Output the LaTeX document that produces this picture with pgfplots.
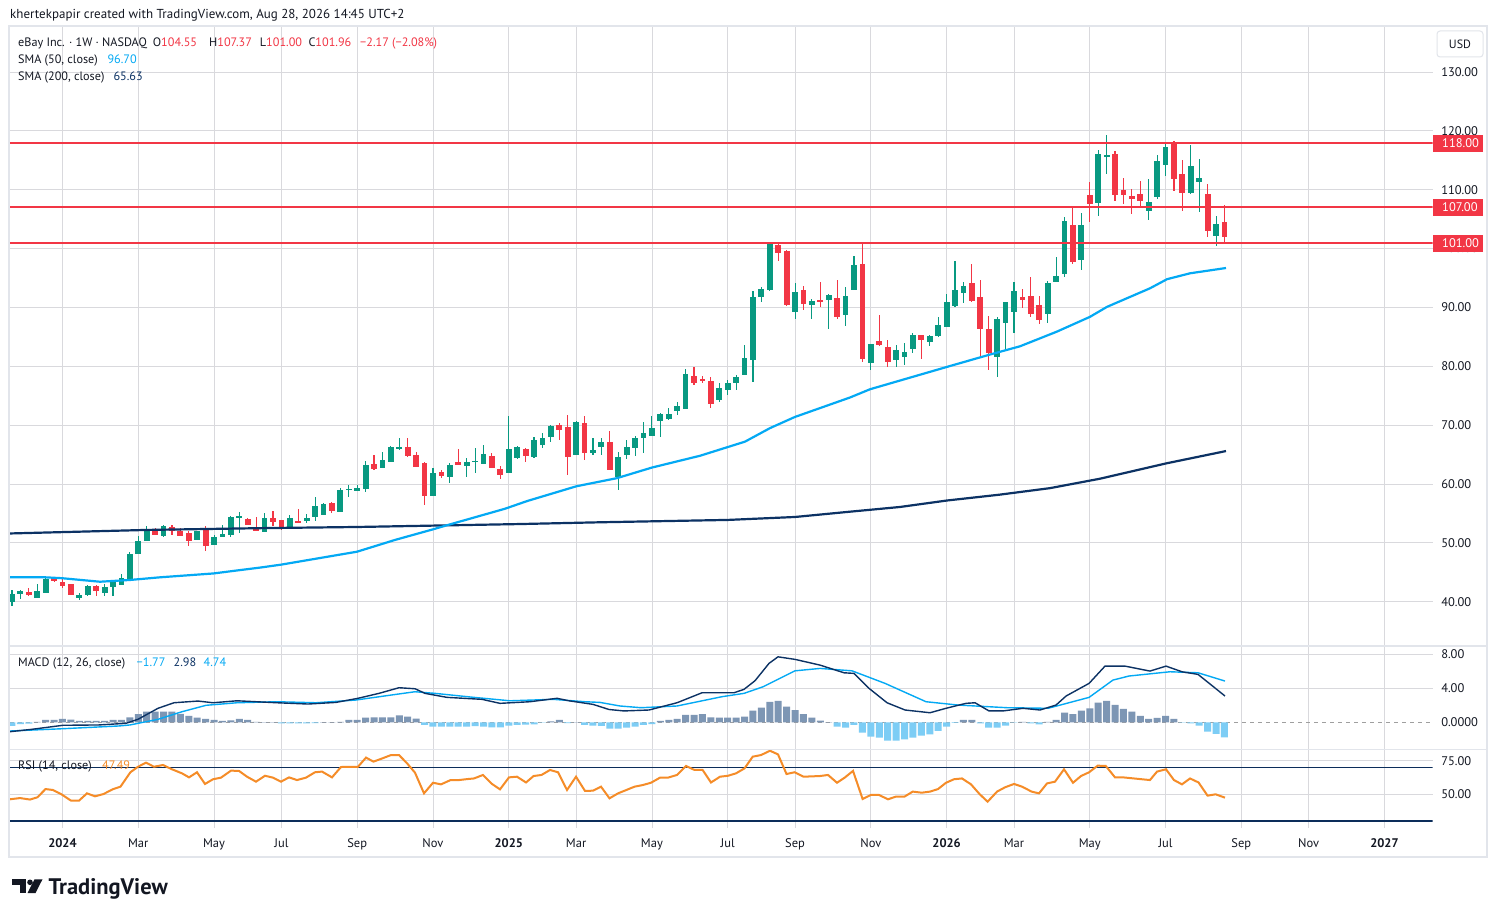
\documentclass[border=0pt]{standalone}
\usepackage{fontspec}
\setmainfont{PT Sans}
\usepackage{pgfplots}
\usepackage{pgfplotstable}
\pgfplotsset{compat=1.18}

\definecolor{tvgreen}{RGB}{8,153,129}
\definecolor{tvred}{RGB}{242,54,69}
\definecolor{smafast}{RGB}{3,169,244}
\definecolor{smaslow}{RGB}{12,50,100}
\definecolor{histpos}{RGB}{125,150,180}
\definecolor{histneg}{RGB}{125,205,245}
\definecolor{rsiorange}{RGB}{245,140,40}
\definecolor{rsinavy}{RGB}{12,45,90}
\definecolor{tvtext}{RGB}{19,23,34}
\definecolor{gridc}{RGB}{217,217,221}
\definecolor{framec}{RGB}{226,229,235}

\pgfplotstableread{
i O H L C
-6 40.0 42.0 39.2 41.4
-5 41.4 42.0 40.4 41.8
-4 41.65 42.3 41.0 41.15
-3 40.7 43.0 40.7 41.8
-2 41.5 44.3 41.5 43.9
-1 44.0 44.2 43.3 43.6
0 43.35 44.1 42.4 42.7
1 43.0 43.0 41.2 41.2
2 40.7 41.5 40.35 41.15
3 41.15 42.9 41.0 42.6
4 42.7 42.9 40.9 41.9
5 41.5 43.0 41.0 42.5
6 42.45 43.7 40.9 43.5
7 42.85 44.65 42.85 44.0
8 43.9 48.45 43.9 48.1
9 48.1 51.2 48.1 50.4
10 50.3 52.9 50.3 52.2
11 52.2 52.5 51.4 51.4
12 51.2 53.0 51.05 52.9
13 52.7 53.0 51.3 52.1
14 52.0 52.6 51.2 51.2
15 51.7 52.0 49.5 50.4
16 50.5 52.0 50.5 52.0
17 52.2 52.9 48.6 49.5
18 49.7 51.3 49.7 51.0
19 51.05 53.0 51.0 51.5
20 51.4 54.6 51.05 54.4
21 54.3 55.2 51.6 54.5
22 54.05 54.3 53.0 53.1
23 52.6 54.4 52.0 52.1
24 51.9 55.0 51.9 54.2
25 54.3 55.4 52.8 53.5
26 53.9 53.9 52.2 52.75
27 52.75 54.7 52.3 54.2
28 53.7 55.75 53.6 53.55
29 53.8 54.9 53.3 54.2
30 54.45 57.8 53.8 56.3
31 54.8 56.8 54.7 56.6
32 56.7 57.0 55.0 55.5
33 55.3 59.3 55.3 59.0
34 59.0 59.8 57.85 59.15
35 58.9 59.8 58.9 59.3
36 59.15 63.9 58.7 63.3
37 63.4 64.9 62.3 62.55
38 62.8 65.4 62.8 64.07
39 63.8 66.5 63.8 66.3
40 66.1 67.8 65.8 66.25
41 66.3 67.8 64.6 64.8
42 64.9 65.4 62.95 62.95
43 63.6 63.8 56.4 58.0
44 58.0 62.7 58.0 61.9
45 62.04 62.3 61.1 61.4
46 61.25 63.5 60.2 63.2
47 63.8 65.9 63.2 63.2
48 63.1 64.5 61.25 63.7
49 63.8 66.1 61.9 63.95
50 63.4 66.6 63.4 65.1
51 64.8 65.2 62.7 62.7
52 62.55 63.0 60.85 61.6
53 61.9 71.6 61.9 65.95
54 64.5 66.5 64.3 66.24
55 65.96 66.1 63.7 64.83
56 64.66 68.05 64.5 67.49
57 66.58 68.7 66.2 67.77
58 68.05 70.0 67.2 69.87
59 70.0 70.4 67.5 69.2
60 69.64 71.7 61.5 64.66
61 64.9 70.7 64.9 70.5
62 70.4 71.6 64.1 65.2
63 65.2 67.9 64.9 65.8
64 66.3 67.9 64.9 67.15
65 67.15 69.0 62.3 62.3
66 61.15 65.5 58.9 64.6
67 65.0 67.5 64.3 66.3
68 66.2 68.2 64.8 67.8
69 67.9 70.5 65.2 68.67
70 68.2 71.6 68.2 69.5
71 70.7 72.0 68.05 71.9
72 71.1 72.9 70.8 71.9
73 72.47 73.9 71.8 73.3
74 72.8 79.55 72.8 78.7
75 78.36 79.9 76.9 77.17
76 77.8 78.4 77.1 77.6
77 77.5 78.1 73.0 73.66
78 74.2 77.1 73.9 76.3
79 76.0 77.6 75.1 77.2
80 77.2 78.5 75.9 78.2
81 78.5 83.6 78.5 81.4
82 81.1 92.8 77.3 91.8
83 91.8 93.5 90.9 93.1
84 93.0 101.1 92.8 100.9
85 100.6 100.9 97.9 99.2
86 99.65 99.8 90.25 90.4
87 89.3 94.2 88.1 92.6
88 92.9 93.6 89.5 90.65
89 90.5 91.4 88.1 91.1
90 91.2 94.3 90.0 91.05
91 91.3 92.3 86.4 92.1
92 91.55 94.7 88.1 88.3
93 88.8 93.5 86.9 91.95
94 93.0 98.7 93.0 97.2
95 97.4 100.9 80.8 81.3
96 80.6 83.8 79.3 83.8
97 84.25 88.7 83.5 83.6
98 83.3 84.5 79.9 80.8
99 81.1 83.7 79.9 82.8
100 81.6 83.9 80.2 82.4
101 83.0 85.7 82.3 85.3
102 85.3 85.4 81.3 84.5
103 84.2 85.4 83.5 85.2
104 85.2 88.3 85.0 87.0
105 86.7 92.3 86.7 90.9
106 90.25 97.9 90.1 92.9
107 92.4 94.3 90.7 93.6
108 94.2 97.4 91.0 91.1
109 91.8 94.7 81.4 86.4
110 86.3 88.55 79.4 82.3
111 81.5 88.3 78.2 88.0
112 87.4 90.9 83.0 90.9
113 89.3 94.3 85.6 92.8
114 91.8 93.1 89.9 91.3
115 91.95 95.2 88.3 88.95
116 90.4 92.0 87.2 87.9
117 88.95 94.55 87.4 94.15
118 94.4 98.6 94.4 95.35
119 95.6 105.4 95.1 104.7
120 103.95 107.3 97.3 97.7
121 98.1 106.0 96.4 103.95
122 109.05 111.3 104.6 107.6
123 107.8 116.75 105.6 116.07
124 115.7 119.3 112.7 115.9
125 116.07 116.5 108.1 109.16
126 109.9 112.0 107.6 109.16
127 108.9 110.2 105.9 108.5
128 109.3 111.5 107.2 108.1
129 106.4 111.8 104.9 107.9
130 108.8 115.9 108.4 114.9
131 114.26 118.0 112.4 117.26
132 118.0 118.2 109.8 111.88
133 112.67 115.05 106.4 109.4
134 109.4 117.6 109.2 113.97
135 111.37 115.2 106.2 111.99
136 109.3 111.0 101.9 103.0
137 102.2 105.5 100.5 104.18
138 104.55 107.37 101.0 101.96
}\tCandles

\pgfplotstableread{
px v
10 44.15
45 44.15
62 44.0
100 43.4
130 43.7
160 44.15
213 44.8
260 45.8
281 46.3
357 48.5
395 50.5
433 52.3
447 53.0
505 55.8
527 57.1
576 59.6
617 61.0
652 62.8
700 64.8
745 67.2
770 69.5
795 71.4
850 74.7
870 76.1
947 79.9
990 82.0
1020 83.4
1057 85.9
1090 88.4
1107 90.1
1150 93.25
1167 94.8
1190 95.8
1226 96.7
}\tSmaF

\pgfplotstableread{
px v
10 51.6
147 52.2
260 52.5
357 52.7
520 53.2
600 53.5
728 53.9
795 54.4
850 55.3
900 56.1
947 57.2
1000 58.2
1050 59.3
1100 60.9
1166 63.5
1226 65.6
}\tSmaS

\pgfplotstableread{
px v
10 -1.10
32 -0.82
63 -0.35
99 -0.31
126 -0.12
138 0.35
158 1.64
174 2.29
198 2.49
213 2.29
237 2.52
277 2.29
308 2.14
336 2.33
358 2.81
379 3.39
399 4.05
415 3.93
425 3.39
447 2.92
482 2.69
500 2.22
530 2.41
557 2.81
569 2.52
593 2.10
609 1.50
624 1.33
649 1.44
677 2.29
702 3.46
734 3.46
744 3.86
755 4.87
769 6.90
778 7.67
795 7.37
820 6.70
844 5.80
854 5.73
869 3.98
887 2.29
905 1.44
930 1.12
946 1.64
966 2.22
975 2.29
989 1.33
1003 1.33
1023 1.64
1040 1.44
1056 2.02
1066 3.08
1089 4.56
1105 6.58
1125 6.58
1150 6.00
1166 6.58
1182 5.92
1198 5.61
1225 3.08
}\tMacd

\pgfplotstableread{
px v
10 -1.02
63 -0.75
119 -0.43
130 -0.31
158 0.35
182 1.24
206 1.99
237 2.29
277 2.41
316 2.29
356 2.61
391 3.19
415 3.58
435 3.39
474 2.92
510 2.52
553 2.69
585 2.41
600 2.33
620 1.91
641 1.71
677 1.91
722 3.00
744 3.39
763 4.16
795 6.03
820 6.31
852 6.03
885 4.56
926 2.41
958 2.02
1007 1.71
1048 1.64
1089 2.92
1113 4.95
1129 5.42
1170 5.92
1198 5.80
1225 4.83
}\tSignal

\pgfplotstableread{
i h
-6 -0.43
-5 -0.20
-4 -0.15
-3 0.05
-2 0.27
-1 0.27
0 0.39
1 0.30
2 0.16
3 0.16
4 0.16
5 0.16
6 0.27
7 0.27
8 0.58
9 0.97
10 1.25
11 1.25
12 1.25
13 1.25
14 1.00
15 0.74
16 0.55
17 0.39
18 0.27
19 0.16
20 0.23
21 0.39
22 0.27
23 0.04
24 0.02
25 0.02
26 -0.12
27 -0.12
28 -0.12
29 -0.12
30 -0.10
31 0.02
32 0.02
33 0.04
34 0.27
35 0.27
36 0.55
37 0.58
38 0.58
39 0.58
40 0.82
41 0.66
42 0.43
43 -0.31
44 -0.50
45 -0.50
46 -0.50
47 -0.50
48 -0.50
49 -0.45
50 -0.50
51 -0.58
52 -0.58
53 -0.40
54 -0.30
55 -0.27
56 -0.25
57 -0.05
58 0.12
59 0.27
60 -0.10
61 0.02
62 -0.31
63 -0.39
64 -0.43
65 -0.74
66 -0.74
67 -0.62
68 -0.50
69 -0.31
70 -0.20
71 0.16
72 0.27
73 0.39
74 0.86
75 0.86
76 0.97
77 0.58
78 0.55
79 0.55
80 0.55
81 0.66
82 1.36
83 1.72
84 2.38
85 2.50
86 1.83
87 1.44
88 0.97
89 0.55
90 0.20
91 0.02
92 -0.50
93 -0.62
94 -0.31
95 -1.20
96 -1.68
97 -1.80
98 -2.14
99 -2.14
100 -2.00
101 -1.80
102 -1.56
103 -1.40
104 -1.00
105 -0.50
106 -0.08
107 0.27
108 0.27
109 -0.12
110 -0.62
111 -0.62
112 -0.39
113 -0.04
114 0.04
115 -0.12
116 -0.23
117 0.04
118 0.27
119 1.13
120 0.97
121 1.36
122 1.64
123 2.30
124 2.50
125 2.03
126 1.56
127 1.25
128 0.74
129 0.39
130 0.51
131 0.74
132 0.39
133 -0.04
134 -0.12
135 -0.39
136 -1.09
137 -1.36
138 -1.77
}\tHist

\pgfplotstableread{
px v
10 46.3
20 47.2
30 46.1
37.5 47.8
45.5 53.9
53 53.2
61 50.2
71 45.3
79 45.3
87 50.7
95 48.5
103.5 50.2
112.6 53.7
120.5 55.7
130.4 66.4
138 70.5
146 73.5
154 70.5
163 71.8
172 68.6
182 65.6
189 62.6
197 66.4
205 57.7
213 61.2
221 62.4
231 67.6
239 67.4
247 63.1
256 59.4
265 63.8
273 62.4
281 59.4
289 62.6
297 60.6
306 62.4
315 66.4
322 66.9
332 62.6
341 70.3
350 70.5
358 70.5
366 77.3
373.5 74.3
382.6 76.8
391 79.2
399 79.2
407 73.1
415 66.1
424 50.7
433 58.6
441 57.4
450.6 60.6
459 60.6
467 61.3
474 61.8
483 64.4
492 57.7
500 53.7
509 62.6
517 63.1
526 58.8
533.6 63.6
541.5 64.4
550 68.1
558 66.4
567 53.2
576 63.1
585 52.5
593 52.7
601 55.7
609.5 47.0
618 50.7
634.6 55.7
642.8 56.9
651 58.6
660 62.4
668 62.4
677 64.4
686 71.1
694.5 68.1
702.6 68.1
711 58.8
720 63.1
728 63.8
736 65.6
744.5 69.3
752.7 78.0
761 79.2
770 82.4
778 79.7
786.5 65.1
794.6 66.4
803.6 63.1
820 63.6
828 64.4
837 58.6
845 62.6
853 67.4
862.6 46.5
870.8 49.5
879 49.5
888 46.3
896 48.3
904.5 48.3
912.7 52.0
921.7 51.2
930 52.0
938 53.9
946 58.6
954 61.2
962 61.8
971 57.4
979.5 50.2
987.6 44.5
997 52.0
1005 55.2
1014 57.7
1022 55.7
1031.6 52.0
1039 50.7
1047 58.1
1055 59.4
1064 68.6
1073 58.6
1081 63.6
1089 66.4
1097.6 71.3
1105.7 71.1
1115 62.6
1123 62.6
1150 60.6
1157 66.9
1166 68.6
1174 60.6
1182 57.4
1190 61.8
1198.5 58.8
1207.5 49.0
1215.6 50.0
1225 47.5
}\tRsi

\pgfplotsset{
  tvpane/.style={
    scale only axis, width=1422.7pt,
    xmin=-6.235, xmax=162.73,
    xtick={0,9,18,26,35,44,53,61,70,79,87,96,105,113,122,131,140,148,157},
    xticklabels={},
    xmajorgrids, ymajorgrids,
    grid style={draw=gridc, line width=0.8pt},
    axis line style={draw=none},
    major tick length=0pt,
    yticklabel pos=right,
    tick label style={font=\fontsize{12.5}{14}\selectfont, text=tvtext},
    yticklabel style={anchor=west, xshift=5pt},
    /pgf/number format/assume math mode=true,
  },
  candle/.style 2 args={draw=none, mark=none, mark size=0pt, forget plot,
    error bars/.cd, y dir=both, y explicit, error mark=none,
    error bar style={draw=#1, line width=#2}},
}

\begin{document}
\begin{tikzpicture}
\useasboundingbox[fill=white] (0pt,0pt) rectangle (1497pt,-917pt);

% ---------------- main price pane ----------------
\begin{axis}[tvpane, at={(10pt,-26pt)}, anchor=north west, height=620pt,
  ymin=32.48, ymax=137.815, ytick={40,50,60,70,80,90,100,110,120,130},
  yticklabel style={/pgf/number format/.cd, fixed, fixed zerofill, precision=2}]
% wicks
\addplot[restrict expr to domain={\thisrow{C}-\thisrow{O}}{0:1000}, candle={tvgreen}{1.1pt}]
  table[x=i, y expr=(\thisrow{H}+\thisrow{L})/2, y error expr=(\thisrow{H}-\thisrow{L})/2]{\tCandles};
\addplot[restrict expr to domain={\thisrow{C}-\thisrow{O}}{-1000:-0.0001}, candle={tvred}{1.1pt}]
  table[x=i, y expr=(\thisrow{H}+\thisrow{L})/2, y error expr=(\thisrow{H}-\thisrow{L})/2]{\tCandles};
% bodies
\addplot[restrict expr to domain={\thisrow{C}-\thisrow{O}}{0:1000}, candle={tvgreen}{5.8pt}]
  table[x=i, y expr=(\thisrow{O}+\thisrow{C})/2, y error expr={max(abs(\thisrow{C}-\thisrow{O})/2,0.08)}]{\tCandles};
\addplot[restrict expr to domain={\thisrow{C}-\thisrow{O}}{-1000:-0.0001}, candle={tvred}{5.8pt}]
  table[x=i, y expr=(\thisrow{O}+\thisrow{C})/2, y error expr={max(abs(\thisrow{C}-\thisrow{O})/2,0.08)}]{\tCandles};
% moving averages
\addplot[smaslow, line width=2.2pt, mark=none] table[x expr=(\thisrow{px}-62.5)/8.42, y=v]{\tSmaS};
\addplot[smafast, line width=2.2pt, mark=none] table[x expr=(\thisrow{px}-62.5)/8.42, y=v]{\tSmaF};
% horizontal levels
\addplot[tvred, line width=2pt, mark=none] coordinates {(-10,118) (170,118)};
\addplot[tvred, line width=2pt, mark=none] coordinates {(-10,107) (170,107)};
\addplot[tvred, line width=2pt, mark=none] coordinates {(-10,101) (170,101)};
\end{axis}

% ---------------- MACD pane ----------------
\begin{axis}[tvpane, at={(10pt,-646pt)}, anchor=north west, height=103.3pt,
  ymin=-3.163, ymax=8.937, ytick={4,8}, yticklabels={4.00,8.00},
  extra y ticks={0}, extra y tick labels={0.0000},
  extra y tick style={grid=major, major grid style={draw=gray!75, dash pattern=on 4pt off 4pt, line width=0.8pt}}]
\addplot[ybar, bar width=7pt, bar shift=0pt, fill=histpos, draw=none, restrict y to domain=0:100] table[x=i, y=h]{\tHist};
\addplot[ybar, bar width=7pt, bar shift=0pt, fill=histneg, draw=none, restrict y to domain=-100:0] table[x=i, y=h]{\tHist};
\addplot[smafast, line width=1.4pt, mark=none] table[x expr=(\thisrow{px}-62.5)/8.42, y=v]{\tSignal};
\addplot[smaslow, line width=1.4pt, mark=none] table[x expr=(\thisrow{px}-62.5)/8.42, y=v]{\tMacd};
\end{axis}

% ---------------- RSI pane ----------------
\begin{axis}[tvpane, at={(10pt,-749.3pt)}, anchor=north west, height=78.7pt,
  ymin=24.93, ymax=83.48, ytick={50,75}, yticklabels={50.00,75.00},
  xticklabels={\textbf{2024},Mar,May,Jul,Sep,Nov,\textbf{2025},Mar,May,Jul,Sep,Nov,\textbf{2026},Mar,May,Jul,Sep,Nov,\textbf{2027}},
  xticklabel style={anchor=base, yshift=-19.3pt}]
\addplot[rsinavy, line width=1.5pt, mark=none] coordinates {(-10,70) (170,70)};
\addplot[rsinavy, line width=1.5pt, mark=none] coordinates {(-10,30) (170,30)};
\addplot[rsiorange, line width=2pt, mark=none] table[x expr=(\thisrow{px}-62.5)/8.42, y=v]{\tRsi};
\end{axis}

% ---------------- frame and separators ----------------
\draw[framec, line width=2pt] (9pt,-26pt) rectangle (1487pt,-857pt);
\draw[framec, line width=1.2pt] (10pt,-646pt) -- (1487pt,-646pt);
\draw[framec, line width=1.2pt] (10pt,-749.3pt) -- (1487pt,-749.3pt);

% USD box
\draw[framec, line width=1pt, fill=white, rounded corners=3pt] (1437pt,-31pt) rectangle (1483pt,-57pt);
\node[text=tvtext, font=\fontsize{12}{14}\selectfont] at (1460pt,-44pt) {USD};

% red price labels
\fill[tvred] (1433pt,-135pt) rectangle (1483pt,-152pt);
\fill[tvred] (1433pt,-199pt) rectangle (1483pt,-216pt);
\fill[tvred] (1433pt,-235pt) rectangle (1483pt,-252pt);
\begin{scope}[every node/.style={inner sep=0pt, anchor=base west, text=white, font=\fontsize{12.5}{14}\selectfont}]
\node at (1442pt,-147.7pt) {118.00};
\node at (1442pt,-211.7pt) {107.00};
\node at (1442pt,-247.7pt) {101.00};
\end{scope}

% texts
\begin{scope}[every node/.style={inner sep=0pt, anchor=base west, text=tvtext, font=\fontsize{12.2}{14}\selectfont}]
\node[font=\fontsize{13}{15}\selectfont] at (10pt,-18.8pt) {khertekpapir created with TradingView.com, Aug 28, 2026 14:45 UTC+2};
\node at (18pt,-46.6pt) {eBay Inc. · 1W · NASDAQ};
\node at (152.7pt,-46.6pt) {O\textcolor{tvred}{104.55}};
\node at (209pt,-46.6pt) {H\textcolor{tvred}{107.37}};
\node at (259.7pt,-46.6pt) {L\textcolor{tvred}{101.00}};
\node at (308.3pt,-46.6pt) {C\textcolor{tvred}{101.96}};
\node[text=tvred] at (360pt,-46.6pt) {−2.17 (−2.08\%)};
\node at (18pt,-63.6pt) {SMA (50, close)};
\node[text=smafast] at (107.3pt,-63.6pt) {96.70};
\node at (18pt,-80.4pt) {SMA (200, close)};
\node[text=smaslow] at (113.3pt,-80.4pt) {65.63};
\node at (18pt,-666.4pt) {MACD (12, 26, close)};
\node[text=smafast] at (136.5pt,-666.4pt) {−1.77};
\node[text=smaslow] at (173.5pt,-666.4pt) {2.98};
\node[text=smafast] at (203.5pt,-666.4pt) {4.74};
\node at (18pt,-769.4pt) {RSI (14, close)};
\node[text=rsiorange] at (102pt,-769.4pt) {47.49};
\end{scope}

% TradingView logo
\fill[tvtext] (12pt,-879.3pt) rectangle (25.5pt,-884.8pt);
\fill[tvtext] (19.5pt,-879.3pt) rectangle (25.5pt,-893pt);
\fill[tvtext] (30pt,-882.3pt) circle (2.8pt);
\fill[tvtext] (34.5pt,-879.3pt) -- (42.5pt,-879.3pt) -- (35.5pt,-893pt) -- (27.5pt,-893pt) -- cycle;
\node[inner sep=0pt, anchor=base west, text=tvtext, font=\fontsize{22.5}{24}\selectfont\bfseries] at (48.5pt,-894pt) {TradingView};
\end{tikzpicture}
\end{document}
